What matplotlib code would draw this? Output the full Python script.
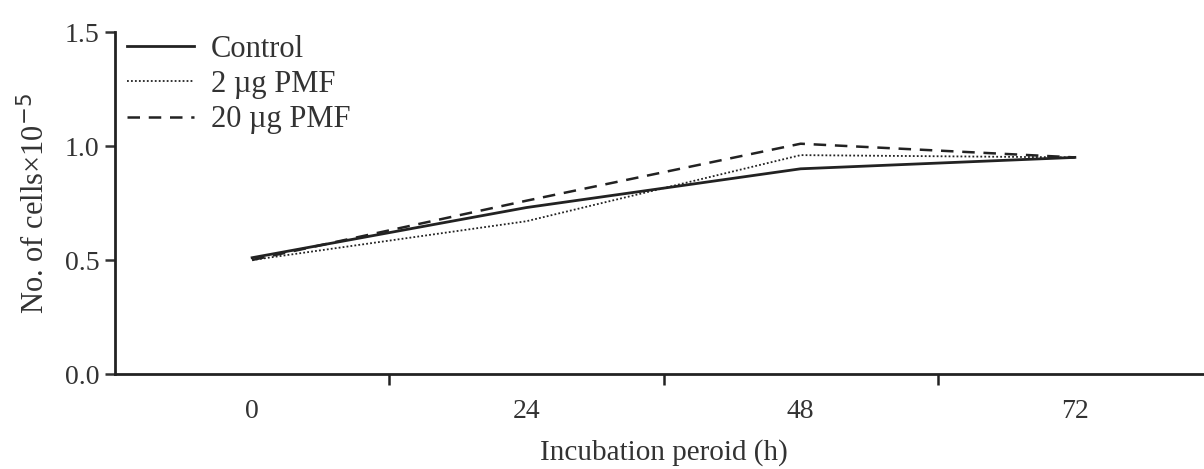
import matplotlib
matplotlib.use('Agg')
import matplotlib.pyplot as plt

# Cell counts over incubation time
hours = [0, 24, 48, 72]
control = [0.51, 0.73, 0.90, 0.95]
pmf_2 = [0.50, 0.67, 0.96, 0.95]
pmf_20 = [0.50, 0.76, 1.01, 0.95]

series_labels = ['Control', '2 \u00b5g PMF', '20 \u00b5g PMF']
y_ticks = [0.0, 0.5, 1.0, 1.5]

plt.rcParams['font.family'] = ['Liberation Serif', 'DejaVu Serif']
plt.rcParams['font.size'] = 20

fig = plt.figure(figsize=(12.04, 4.69), dpi=100)
ax = fig.add_axes([115/1204, 1-374/469, (1212-115)/1204, (374-32)/469])

ax.plot(hours, control, color='#222222', lw=2.0, ls='-', label=series_labels[0])
ax.plot(hours, pmf_2, color='#222222', lw=1.3, ls=(0, (1, 1.2)), label=series_labels[1])
ax.plot(hours, pmf_20, color='#222222', lw=1.8, ls=(0, (5, 3.5)), label=series_labels[2])

ax.set_xlim(-12, 84)
ax.set_ylim(0, 1.5)

# tick marks sit between the time points, labels sit on them
ax.set_xticks([12, 36, 60])
ax.set_xticklabels([])
ax.set_xticks(hours, minor=True)
ax.set_xticklabels([str(h) for h in hours], minor=True)
ax.tick_params(axis='x', which='minor', length=0, pad=18, labelsize=20, colors='#333333')
ax.tick_params(axis='x', which='major', length=8, width=1.8, direction='out', color='#222222')

ax.set_yticks(y_ticks)
ax.set_yticklabels(['%.1f' % v for v in y_ticks])
ax.tick_params(axis='y', length=7, width=1.8, direction='out', pad=4, labelsize=20,
               color='#333333', labelcolor='#333333')

for s in ['top', 'right']:
    ax.spines[s].set_visible(False)
for s in ['left', 'bottom']:
    ax.spines[s].set_linewidth(2.0)
    ax.spines[s].set_color('#222222')

ax.set_xlabel('Incubation peroid (h)', labelpad=11, fontsize=21, color='#333333')
ax.set_ylabel('No. of cells\u00d710$^{-5}$', labelpad=10, fontsize=22, color='#333333')

leg = ax.legend(loc='upper left', bbox_to_anchor=(0.0, 1.027), frameon=False,
                fontsize=22, handlelength=2.2, handletextpad=0.55, labelspacing=0.2,
                borderaxespad=0.0, borderpad=0.4)
for t in leg.get_texts():
    t.set_color('#333333')

fig.savefig('out.png', dpi=100)
